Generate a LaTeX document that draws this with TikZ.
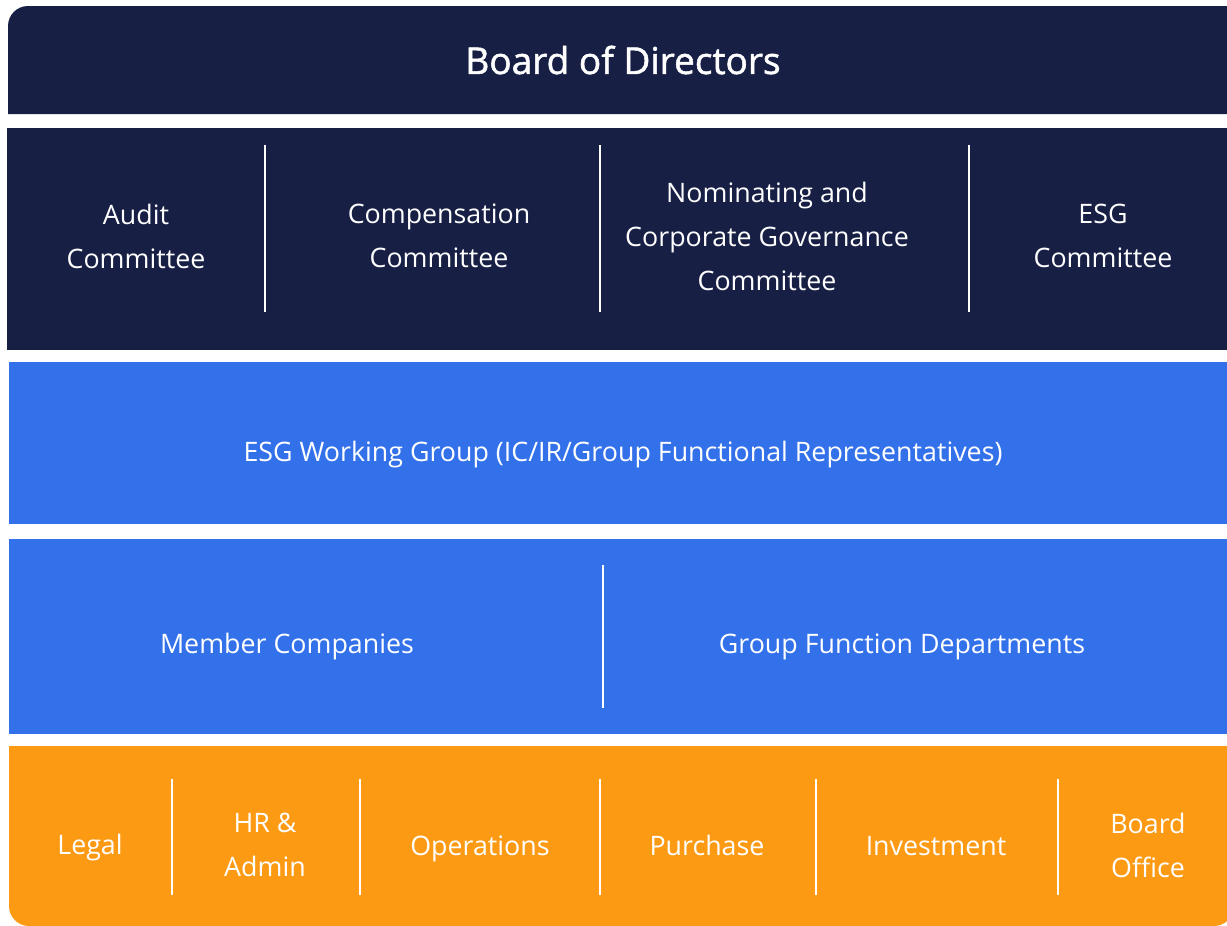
\documentclass[tikz,border=0pt]{standalone}
\usepackage{fontspec}
\setmainfont{Open Sans}
\newfontfamily\titlefont[FakeBold=1.4]{Open Sans}
\definecolor{navy}{HTML}{171F45}
\definecolor{royal}{HTML}{3371EA}
\definecolor{amber}{HTML}{FD9A14}

\begin{document}
\begin{tikzpicture}[
  x=1pt, y=-1pt,
  label/.style={text=white, align=center, inner sep=0pt,
                font=\fontsize{26.8}{44}\selectfont},
  title/.style={text=white, inner sep=0pt,
                font=\titlefont\fontsize{37}{40}\selectfont},
  divider/.style={white, line width=1.6pt}
]
\useasboundingbox (0,0) rectangle (1227,926);

% ---- Bars ----
\fill[navy] (8,114) [rounded corners=20] -- (8,6) [sharp corners]
  -- (1227,6) -- (1227,114) -- cycle;
\fill[navy] (7,128) rectangle (1227,350);
\fill[royal] (9,362) rectangle (1227,524);
\fill[royal] (9,539) rectangle (1227,734);
\fill[amber] (9,746) -- (1234,746) [rounded corners=20] -- (1234,926)
  -- (9,926) [sharp corners] -- cycle;

% ---- Row 0: Board ----
\node[title] (board) at (623,60) {Board of Directors};

% ---- Row 1: Committees ----
\node[label] (audit) at (136,236) {Audit\\Committee};
\node[label] (comp) at (439,236) {Compensation\\Committee};
\node[label] (nom) at (767,236) {Nominating and\\Corporate Governance\\Committee};
\node[label] (esgc) at (1103,236) {ESG\\Committee};

% ---- Row 2: Working group ----
\node[label] (wg) at (623,455) {ESG Working Group (IC/IR/Group Functional Representatives)};

% ---- Row 3 ----
\node[label] (member) at (287,647) {Member Companies};
\node[label] (group) at (902,647) {Group Function Departments};

% ---- Row 4: Departments ----
\node[label] (legal) at (90,848) {Legal};
\node[label] (hr) at (265,845) {HR \&\\Admin};
\node[label] (ops) at (480,849) {Operations};
\node[label] (purch) at (707,845) {Purchase};
\node[label] (invest) at (936,846) {Investment};
\node[label] (office) at (1148,845) {Board\\Office};

% ---- Dividers ----
\foreach \x in {265,600,969}
  \draw[divider] (\x,145) -- (\x,312);
\draw[divider] (603,565) -- (603,708);
\foreach \x in {172,360,600,816,1058}
  \draw[divider] (\x,779) -- (\x,895);

\end{tikzpicture}
\end{document}
